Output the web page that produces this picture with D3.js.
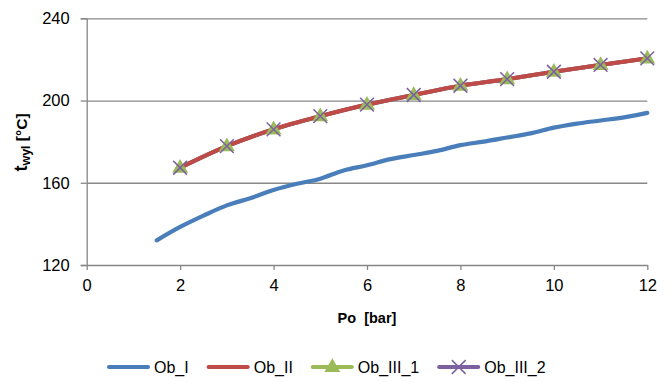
<!DOCTYPE html>
<html>
<head>
<meta charset="utf-8">
<script src="https://cdn.jsdelivr.net/npm/d3@7"></script>
<style>
  html, body { margin: 0; padding: 0; background: #fff; }
  svg { display: block; font-family: "Liberation Sans", Arial, sans-serif; }
</style>
</head>
<body>
<svg id="chart" width="670" height="382"></svg>
<script>
// ---- data ----
const xTicks = [0, 2, 4, 6, 8, 10, 12];
const yTicks = [120, 160, 200, 240];

const obI_x = [1.5, 2, 2.5, 3, 3.5, 4, 4.5, 5, 5.5, 6, 6.5, 7, 7.5, 8, 8.5, 9, 9.5, 10, 10.5, 11, 11.5, 12];
const obI_y = [132, 138.5, 144, 149, 152.5, 156.5, 159.5, 162, 166, 168.5, 171.5, 173.5, 175.5, 178.3, 180, 182, 184, 186.8, 188.8, 190.3, 191.8, 194];

const obII_x = [2, 3, 4, 5, 6, 7, 8, 9, 10, 11, 12];
const obII_y = [167.3, 177.8, 186, 192.4, 198, 202.7, 207.2, 210.4, 214, 217.3, 220.5];

const obIII1_x = [2, 3, 4, 5, 6, 7, 8, 9, 10, 11, 12];
const obIII1_y = [167.3, 177.8, 186, 192.4, 198, 202.7, 207.2, 210.4, 214, 217.3, 220.5];

const obIII2_x = [2, 3, 4, 5, 6, 7, 8, 9, 10, 11, 12];
const obIII2_y = [167.3, 177.8, 186, 192.4, 198, 202.7, 207.2, 210.4, 214, 217.3, 220.5];

const seriesNames = ["Ob_I", "Ob_II", "Ob_III_1", "Ob_III_2"];
const seriesColors = ["#4a7ebb", "#be4b48", "#9bbb59", "#7d60a0"];

// ---- layout ----
const svg = d3.select("#chart");
const x = d3.scaleLinear().domain([0, 12]).range([86.7, 647.3]);
const y = d3.scaleLinear().domain([120, 240]).range([265, 18.3]);
const gridColor = "#878787";

const yAxis = d3.axisLeft(y).tickValues(yTicks).tickSize(6).tickPadding(11).tickFormat(d3.format("d"));
const gy = svg.append("g").attr("transform", `translate(${x(0)},0)`).call(yAxis);
gy.attr("font-family", null);
gy.select(".domain").attr("stroke", gridColor).attr("stroke-width", 1.3);
gy.selectAll(".tick line").attr("stroke", gridColor).attr("stroke-width", 1.3);
gy.selectAll(".tick text").attr("font-size", 16.5).attr("fill", "#000");
gy.selectAll(".tick").filter(d => d !== 120).append("line")
  .attr("x1", 0).attr("x2", x(12) - x(0))
  .attr("stroke", gridColor).attr("stroke-width", 1.3);

const xAxis = d3.axisBottom(x).tickValues(xTicks).tickSize(5).tickPadding(9).tickSizeOuter(0);
const gx = svg.append("g").attr("transform", `translate(0,${y(120)})`).call(xAxis);
gx.attr("font-family", null);
gx.select(".domain").attr("stroke", gridColor).attr("stroke-width", 1.3);
gx.selectAll(".tick line").attr("stroke", gridColor).attr("stroke-width", 1.3);
gx.selectAll(".tick text").attr("font-size", 16.5).attr("fill", "#000");

// axis titles
svg.append("text")
  .attr("x", 367).attr("y", 322.5)
  .attr("text-anchor", "middle")
  .attr("font-weight", "bold").attr("font-size", 14.5)
  .style("white-space", "pre")
  .text("Po  [bar]");

const yt = svg.append("text")
  .attr("transform", "translate(27,142.5) rotate(-90)")
  .attr("text-anchor", "middle")
  .attr("font-weight", "bold");
yt.append("tspan").attr("font-size", 18).text("t");
yt.append("tspan").attr("font-size", 12.5).attr("dy", 3).text("wyl");
yt.append("tspan").attr("font-size", 15.5).attr("dy", -3).style("white-space", "pre").text(" [°C]");

// ---- series ----
const line = d3.line().x(d => x(d[0])).y(d => y(d[1])).curve(d3.curveCatmullRom.alpha(0.5));
const zip = (a, b) => a.map((v, i) => [v, b[i]]);

const dI = zip(obI_x, obI_y);
const dII = zip(obII_x, obII_y);
const dIII1 = zip(obIII1_x, obIII1_y);
const dIII2 = zip(obIII2_x, obIII2_y);

svg.append("path").datum(dIII1).attr("d", line).attr("fill", "none")
  .attr("stroke", seriesColors[2]).attr("stroke-width", 4).attr("stroke-linecap", "round");
svg.append("path").datum(dIII2).attr("d", line).attr("fill", "none")
  .attr("stroke", seriesColors[3]).attr("stroke-width", 4).attr("stroke-linecap", "round");
svg.append("path").datum(dI).attr("d", line).attr("fill", "none")
  .attr("stroke", seriesColors[0]).attr("stroke-width", 4.2).attr("stroke-linecap", "round");
svg.append("path").datum(dII).attr("d", line).attr("fill", "none")
  .attr("stroke", seriesColors[1]).attr("stroke-width", 4.2).attr("stroke-linecap", "round");

const tri = d3.symbol().type(d3.symbolTriangle).size(110);
svg.append("g").selectAll("path").data(dIII1).join("path")
  .attr("d", tri)
  .attr("transform", d => `translate(${x(d[0])},${y(d[1]) + 0.5})`)
  .attr("fill", seriesColors[2]);

const cr = d3.symbol().type(d3.symbolX).size(125);
svg.append("g").selectAll("path").data(dIII2).join("path")
  .attr("d", cr)
  .attr("transform", d => `translate(${x(d[0])},${y(d[1])})`)
  .attr("fill", "none").attr("stroke", seriesColors[3]).attr("stroke-width", 1.5);

// ---- legend ----
const legend = svg.append("g").attr("transform", "translate(109,367)");
let lx = 0;
seriesNames.forEach((name, i) => {
  const g = legend.append("g").attr("transform", `translate(${lx},0)`);
  g.append("line").attr("x1", 0).attr("x2", 39).attr("y1", 0).attr("y2", 0)
    .attr("stroke", seriesColors[i]).attr("stroke-width", 4.2).attr("stroke-linecap", "round");
  if (i === 2) {
    g.append("path").attr("d", tri).attr("transform", "translate(19.5,0.5)").attr("fill", seriesColors[2]);
  }
  if (i === 3) {
    g.append("path").attr("d", cr).attr("transform", "translate(19.5,0)")
      .attr("fill", "none").attr("stroke", seriesColors[3]).attr("stroke-width", 1.5);
  }
  const t = g.append("text").attr("x", 45).attr("y", 6).attr("font-size", 16).text(name);
  lx += 45 + t.node().getComputedTextLength() + 20;
});
</script>
</body>
</html>
